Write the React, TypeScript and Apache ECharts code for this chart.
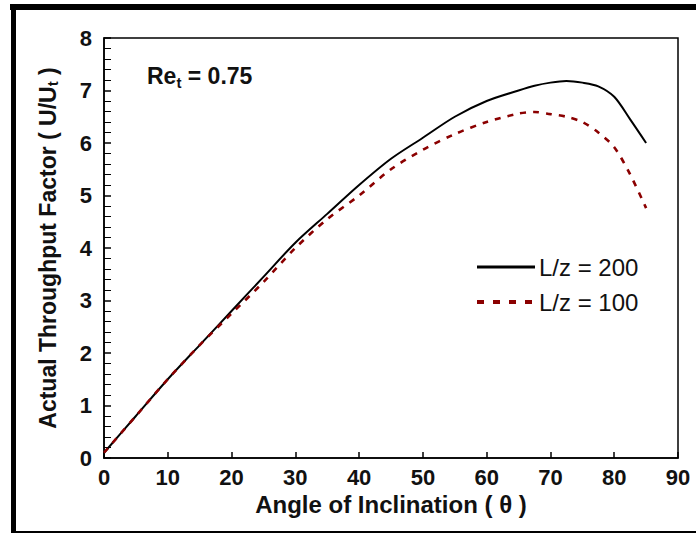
import React, { useEffect, useRef } from "react";
import * as echarts from "echarts";

const angles = [0, 5, 10, 15, 20, 25, 30, 35, 40, 45, 50, 55, 60, 65, 67.5, 70, 72.5, 75, 77.5, 80, 82.5, 85];
const lz200 = [0.1, 0.8, 1.5, 2.15, 2.8, 3.45, 4.1, 4.65, 5.2, 5.7, 6.1, 6.5, 6.8, 7.0, 7.09, 7.15, 7.18, 7.15, 7.08, 6.88, 6.45, 6.0];
const lz100 = [0.1, 0.8, 1.5, 2.15, 2.75, 3.35, 4.0, 4.55, 5.0, 5.5, 5.87, 6.17, 6.4, 6.56, 6.59, 6.55, 6.5, 6.4, 6.2, 5.92, 5.4, 4.76];
const seriesNames = ["L/z = 200", "L/z = 100"];
const xTitle = "Angle of Inclination ( θ )";
const yTitle = "Actual Throughput Factor ( U/U{sub|t} )";

const FONT = "'Liberation Sans', Arial, sans-serif";
const RED = "#8b0000";

export default function App() {
  const ref = useRef<HTMLDivElement>(null);
  useEffect(() => {
    if (!ref.current) return;
    const chart = echarts.init(ref.current, undefined, { renderer: "svg" });
    chart.setOption({
      animation: false,
      backgroundColor: "#fff",
      textStyle: { fontFamily: FONT },
      grid: { left: 104, top: 38, right: 18, bottom: 77, show: true, borderColor: "#000", borderWidth: 1.5 },
      xAxis: {
        type: "value",
        min: 0,
        max: 90,
        interval: 10,
        name: xTitle,
        nameLocation: "middle",
        nameGap: 34,
        nameTextStyle: { fontSize: 24, fontWeight: "bold", color: "#111", fontFamily: FONT },
        axisLine: { lineStyle: { color: "#000", width: 1.5 } },
        axisTick: { inside: true, length: 6, lineStyle: { color: "#000", width: 1.5 } },
        axisLabel: { fontSize: 22, fontWeight: "bold", color: "#111", margin: 8, fontFamily: FONT },
        splitLine: { show: false },
      },
      yAxis: {
        type: "value",
        min: 0,
        max: 8,
        interval: 1,
        name: yTitle,
        nameLocation: "middle",
        nameRotate: 90,
        nameGap: 44,
        nameTextStyle: {
          fontSize: 23,
          fontWeight: "bold",
          color: "#111",
          fontFamily: FONT,
          rich: { sub: { fontSize: 15, fontWeight: "bold", verticalAlign: "bottom", padding: [10, 0, 0, 0], fontFamily: FONT, color: "#111" } },
        },
        axisLine: { lineStyle: { color: "#000", width: 1.5 } },
        axisTick: { inside: true, length: 7, lineStyle: { color: "#000", width: 1.5 } },
        minorTick: { show: true, splitNumber: 5, length: 7, lineStyle: { color: "#000", width: 1 } },
        axisLabel: { fontSize: 22, fontWeight: "bold", color: "#111", margin: 12, fontFamily: FONT },
        splitLine: { show: false },
      },
      series: [
        {
          name: seriesNames[0],
          type: "line",
          symbol: "none",
          smooth: 0.3,
          data: angles.map((a, i) => [a, lz200[i]]),
          lineStyle: { color: "#000", width: 2 },
          itemStyle: { color: "#000" },
        },
        {
          name: seriesNames[1],
          type: "line",
          symbol: "none",
          smooth: 0.3,
          data: angles.map((a, i) => [a, lz100[i]]),
          lineStyle: { color: RED, width: 2.6, type: [6, 7] },
          itemStyle: { color: RED },
        },
      ],
      graphic: [
        { type: "rect", left: 10, top: 4, shape: { width: 686, height: 6 }, style: { fill: "#000" } },
        { type: "rect", left: 11, top: 4, shape: { width: 5, height: 529 }, style: { fill: "#000" } },
        { type: "rect", left: 11, top: 531, shape: { width: 685, height: 2 }, style: { fill: "#000" } },
        {
          type: "text",
          x: 147,
          y: 76,
          style: {
            text: "{b|Re}{s|t}{b| = 0.75}",
            verticalAlign: "middle",
            rich: {
              b: { fontSize: 23, fontWeight: "bold", fill: "#111", fontFamily: FONT },
              s: { fontSize: 15, fontWeight: "bold", fill: "#111", fontFamily: FONT, padding: [12, 0, 0, 0] },
            },
          },
        },
        { type: "line", shape: { x1: 477, y1: 267, x2: 535, y2: 267 }, style: { stroke: "#000", lineWidth: 3 } },
        { type: "line", shape: { x1: 477, y1: 302, x2: 535, y2: 302 }, style: { stroke: RED, lineWidth: 4, lineDash: [7, 9] } },
        {
          type: "text",
          x: 539,
          y: 267,
          style: { text: seriesNames[0], fontSize: 24, fill: "#111", fontFamily: FONT, verticalAlign: "middle" },
        },
        {
          type: "text",
          x: 539,
          y: 302,
          style: { text: seriesNames[1], fontSize: 24, fill: "#111", fontFamily: FONT, verticalAlign: "middle" },
        },
      ],
    });
    return () => chart.dispose();
  }, []);
  return <div ref={ref} style={{ position: "fixed", left: 0, top: 0, width: 696, height: 535 }} />;
}
